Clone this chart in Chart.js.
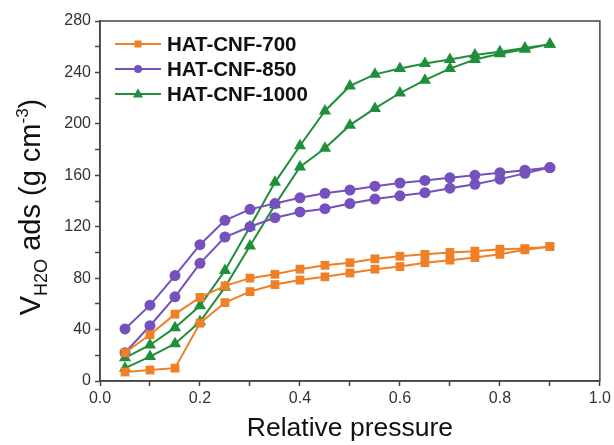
<!DOCTYPE html>
<html>
<head>
<meta charset="utf-8">
<script src="https://cdn.jsdelivr.net/npm/chart.js@4.4.1/dist/chart.umd.min.js"></script>
<style>
  html, body { margin: 0; padding: 0; background: #fff; }
  #wrap { width: 614px; height: 445px; }
</style>
</head>
<body>
<div id="wrap"><canvas id="chart" width="614" height="445"></canvas></div>
<script>
// Relative pressure points (same for every branch)
const pressure = [0.05, 0.1, 0.15, 0.2, 0.25, 0.3, 0.35, 0.4, 0.45, 0.5, 0.55, 0.6, 0.65, 0.7, 0.75, 0.8, 0.85, 0.9];

// Adsorption (lower) and desorption (upper) branches, g cm-3
const ads700  = [7, 8.5, 10, 45, 61, 69.5, 75, 78.5, 81, 84, 87, 89, 92, 94, 96, 98.5, 102, 104.5];
const des700  = [22, 36, 52, 65, 74, 80, 83, 87, 90, 92, 95, 97, 98.5, 100, 101, 102.5, 103, 104.5];
const ads850  = [22, 43, 65.5, 91.5, 112, 120, 127, 131.5, 134, 138, 141.5, 144, 146.5, 150, 153, 157, 161.5, 166];
const des850  = [40.5, 59, 82, 106, 125, 133.5, 138, 142.5, 146, 148.5, 151.5, 154, 156, 158, 160, 162, 164, 166];
const ads1000 = [10, 19, 29, 46, 73, 105, 137, 166.5, 181, 199, 212, 224, 234, 243, 250, 254.5, 258, 262];
const des1000 = [18, 28, 41.5, 58.5, 86, 120, 154.5, 183, 210, 229.5, 238.5, 243, 247, 250, 253.5, 256, 259, 262];

const seriesNames = ['HAT-CNF-700', 'HAT-CNF-850', 'HAT-CNF-1000'];
const seriesColors = ['#f07f25', '#7451bd', '#1f8f3c'];
const seriesMarkers = ['rect', 'circle', 'triangle'];

const yTicks = [0, 40, 80, 120, 160, 200, 240, 280];

const FONT = '"Liberation Sans", Arial, sans-serif';

// ── Helpers ──────────────────────────────────────────────────────────────────

// one closed isotherm: adsorption up, desorption back down
function loop(ads, des) {
  const pts = pressure.map((p, i) => ({ x: p, y: ads[i] }));
  for (let i = pressure.length - 1; i >= 0; i--) {
    pts.push({ x: pressure[i], y: des[i] });
  }
  return pts;
}

function drawMarker(ctx, style, x, y, r) {
  ctx.beginPath();
  if (style === 'rect') {
    ctx.rect(x - r, y - r, 2 * r, 2 * r);
  } else if (style === 'circle') {
    ctx.arc(x, y, r, 0, Math.PI * 2);
  } else {
    ctx.moveTo(x, y - r * 1.15);
    ctx.lineTo(x + r, y + r * 0.7);
    ctx.lineTo(x - r, y + r * 0.7);
    ctx.closePath();
  }
  ctx.fill();
}

// frame + in-plot legend + y title with sub/superscripts
const decorPlugin = {
  id: 'decor',
  afterDraw(chart) {
    const ctx = chart.ctx;
    const a = chart.chartArea;
    ctx.save();

    ctx.strokeStyle = '#444';
    ctx.lineWidth = 1.5;
    ctx.strokeRect(a.left, a.top, a.right - a.left, a.bottom - a.top);

    // legend
    const radii = [3.5, 4, 5];
    seriesNames.forEach((name, i) => {
      const y = 44 + i * 25;
      ctx.strokeStyle = seriesColors[i];
      ctx.fillStyle = seriesColors[i];
      ctx.lineWidth = 2;
      ctx.beginPath();
      ctx.moveTo(115, y);
      ctx.lineTo(161, y);
      ctx.stroke();
      drawMarker(ctx, seriesMarkers[i], 138, y, radii[i]);
      ctx.fillStyle = '#111';
      ctx.font = `bold 20.5px ${FONT}`;
      ctx.textBaseline = 'middle';
      ctx.textAlign = 'left';
      ctx.fillText(name, 167, y + 1);
    });

    // y axis title
    const parts = [
      { t: 'V', size: 29, dy: 0 },
      { t: 'H2O', size: 18, dy: 7 },
      { t: ' ads (g cm', size: 29, dy: 0 },
      { t: '-3', size: 17, dy: -12 },
      { t: ')', size: 29, dy: 0 }
    ];
    let total = 0;
    for (const p of parts) {
      ctx.font = `${p.size}px ${FONT}`;
      p.w = ctx.measureText(p.t).width;
      total += p.w;
    }
    ctx.translate(30, 207);
    ctx.rotate(-Math.PI / 2);
    ctx.fillStyle = '#111';
    ctx.textBaseline = 'alphabetic';
    ctx.textAlign = 'left';
    let x = -total / 2;
    for (const p of parts) {
      ctx.font = `${p.size}px ${FONT}`;
      ctx.fillText(p.t, x, 10 + p.dy);
      x += p.w;
    }
    ctx.restore();
  }
};

// ── Chart ────────────────────────────────────────────────────────────────────

const datasets = [
  loop(ads700, des700),
  loop(ads850, des850),
  loop(ads1000, des1000)
].map((pts, i) => ({
  label: seriesNames[i],
  data: pts,
  borderColor: seriesColors[i],
  backgroundColor: seriesColors[i],
  borderWidth: 2,
  pointStyle: seriesMarkers[i],
  pointRadius: [6.2, 5.5, 7][i],
  pointBorderWidth: 0,
  tension: 0,
  fill: false
}));

new Chart(document.getElementById('chart').getContext('2d'), {
  type: 'line',
  data: { datasets },
  options: {
    responsive: false,
    animation: false,
    layout: { padding: { top: 21, right: 12, left: 0, bottom: 0 } },
    plugins: {
      legend: { display: false },
      tooltip: { enabled: false }
    },
    scales: {
      x: {
        type: 'linear',
        min: 0,
        max: 1,
        afterFit: s => { s.height = 64; },
        grid: { drawOnChartArea: false, tickLength: 5, tickColor: '#444', tickWidth: 1.5 },
        border: { color: '#444', width: 1.5 },
        ticks: {
          stepSize: 0.1,
          autoSkip: false,
          maxRotation: 0,
          color: '#333',
          font: { size: 16, family: FONT },
          padding: 3,
          callback: v => (Math.round(v * 10) % 2 === 0 ? v.toFixed(1) : '')
        },
        title: {
          display: true,
          text: 'Relative pressure',
          color: '#111',
          font: { size: 26.5, family: FONT },
          padding: { top: 2, bottom: 0 }
        }
      },
      y: {
        min: 0,
        max: 280,
        afterFit: s => { s.width = 100; },
        afterBuildTicks: s => {
          s.ticks = [];
          for (let v = 0; v <= 280; v += 20) s.ticks.push({ value: v });
        },
        grid: { drawOnChartArea: false, tickLength: 5, tickColor: '#444', tickWidth: 1.5 },
        border: { color: '#444', width: 1.5 },
        ticks: {
          autoSkip: false,
          color: '#333',
          font: { size: 16, family: FONT },
          padding: 4,
          callback: v => (yTicks.includes(v) ? String(v) : '')
        }
      }
    }
  },
  plugins: [decorPlugin]
});
</script>
</body>
</html>
